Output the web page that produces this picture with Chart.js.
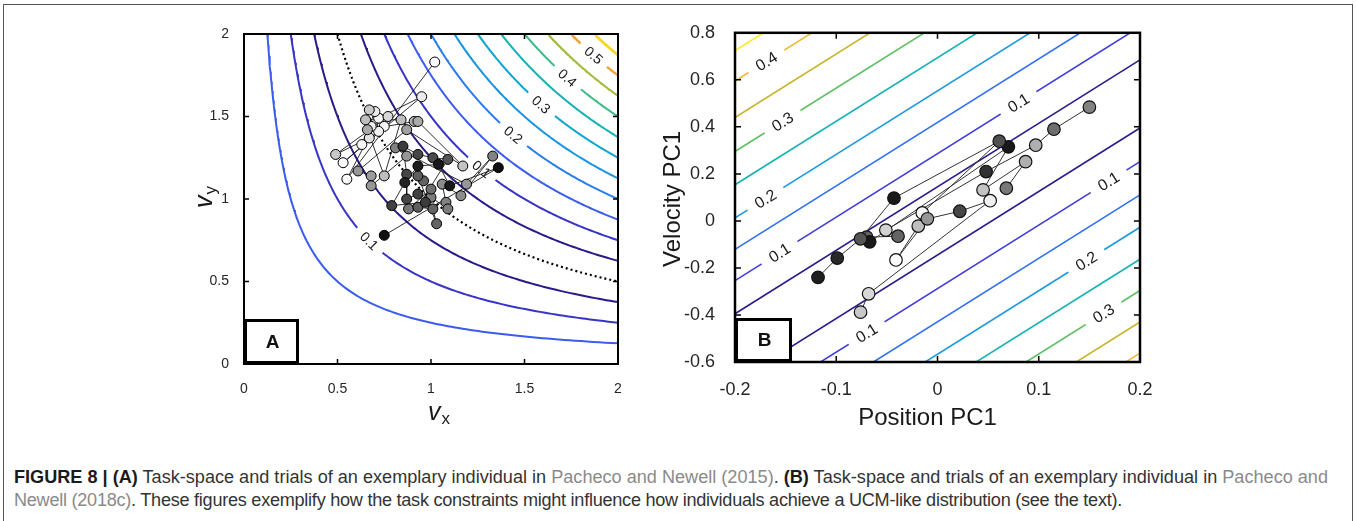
<!DOCTYPE html>
<html>
<head>
<meta charset="utf-8">
<script src="https://cdn.jsdelivr.net/npm/chart.js@4.4.0/dist/chart.umd.min.js"></script>
<style>
  html, body { margin: 0; padding: 0; background: #fff; }
  body { width: 1357px; height: 521px; position: relative; overflow: hidden; font-family: "Liberation Sans", Arial, sans-serif; }
  .frame { position: absolute; left: 3px; top: 4px; width: 1350px; height: 540px; border: 1.5px solid #555; box-sizing: border-box; }
  #chartA { position: absolute; left: 170px; top: 10px; }
  #chartB { position: absolute; left: 640px; top: 10px; }
  .cap { position: absolute; left: 14px; white-space: nowrap; color: #333; }
  .cap b { color: #1a1a1a; }
  .cap .ref { color: #8a8a8a; }
</style>
</head>
<body>
<div class="frame"></div>
<canvas id="chartA" width="470" height="430"></canvas>
<canvas id="chartB" width="530" height="430"></canvas>
<div class="cap" id="cap1"><b>FIGURE 8 | (A)</b> Task-space and trials of an exemplary individual in <span class="ref">Pacheco and Newell (2015)</span>. <b>(B)</b> Task-space and trials of an exemplary individual in <span class="ref">Pacheco and</span></div>
<div class="cap" id="cap2"><span class="ref">Newell (2018c)</span>. These figures exemplify how the task constraints might influence how individuals achieve a UCM-like distribution (see the text).</div>
<script>
Chart.defaults.font.family = "'Liberation Sans', Arial, Helvetica, sans-serif";
Chart.defaults.color = '#262626';

// ---------- panel A: task space v_x / v_y ----------
const xTicksA = [0, 0.5, 1, 1.5, 2];
const yTicksA = [0, 0.5, 1, 1.5, 2];
const tickLabelsA = ['0', '0.5', '1', '1.5', '2'];
const contourProductA = [0.25, 0.5, 0.75, 1.25, 1.5, 1.75, 2, 2.25, 2.5, 2.75, 3, 3.25, 3.5, 3.75];
const contourLevelA = [0.15, 0.1, 0.05, 0.05, 0.1, 0.15, 0.2, 0.25, 0.3, 0.35, 0.4, 0.45, 0.5, 0.55];
const ucmProductA = 1;
const labelTextA = ['0.1', '0.1', '0.2', '0.3', '0.4', '0.5'];
const labelProductA = [0.5, 1.5, 2, 2.5, 3, 3.5];
const labelVxA = [0.67, 1.27, 1.44, 1.59, 1.73, 1.87];
// trials in order
const vxA = [1.02, 0.55, 0.72, 0.95, 0.53, 0.75, 0.63, 0.70, 0.72, 0.68, 0.67, 0.49, 0.77, 0.67, 0.65, 0.84, 0.75, 0.66, 0.91, 0.93,
             1.17, 0.87, 0.61, 0.68, 0.68, 0.87, 0.81, 1.19, 1.33, 1.16, 1.06, 1.08, 1.09, 1.00, 0.88, 1.00, 0.96, 0.93, 1.03, 1.01,
             0.93, 1.09, 1.01, 0.93, 0.85, 0.87, 0.87, 0.93, 0.97, 0.79, 0.86, 0.93, 1.04, 1.10, 1.36, 0.75];
const vyA = [1.83, 1.12, 1.49, 1.62, 1.22, 1.44, 1.33, 1.53, 1.41, 1.44, 1.37, 1.27, 1.50, 1.54, 1.48, 1.48, 1.14, 1.42, 1.47, 1.47,
             1.20, 1.42, 1.17, 1.14, 1.08, 1.26, 1.31, 1.09, 1.26, 1.02, 1.09, 0.98, 0.94, 1.01, 0.94, 1.06, 1.11, 1.14, 0.85, 0.94,
             0.95, 1.24, 1.25, 1.27, 1.32, 1.15, 1.00, 1.03, 0.98, 0.96, 1.10, 1.20, 1.21, 1.08, 1.19, 0.78];
const grayA = [250, 250, 245, 235, 250, 245, 245, 235, 240, 240, 225, 200, 215, 200, 190, 190, 190, 170, 175, 170,
               195, 160, 150, 155, 150, 150, 130, 150, 130, 140, 140, 130, 125, 125, 120, 110, 100, 95, 100, 100,
               95, 85, 75, 70, 60, 70, 70, 65, 60, 65, 35, 30, 25, 25, 15, 15];

// ---------- panel B: position / velocity PC1 ----------
const xTicksB = [-0.2, -0.1, 0, 0.1, 0.2];
const xTickLabelsB = ['-0.2', '-0.1', '0', '0.1', '0.2'];
const yTicksB = [-0.6, -0.4, -0.2, 0, 0.2, 0.4, 0.6, 0.8];
const yTickLabelsB = ['-0.6', '-0.4', '-0.2', '0', '0.2', '0.4', '0.6', '0.8'];
// straight contour lines: value, y at x=-0.2 and y at x=0.2
const contourLevelB = [0.05, 0.1, 0.15, 0.2, 0.25, 0.3, 0.35, 0.4, 0.45, 0.05, 0.1, 0.15, 0.2, 0.25, 0.3, 0.35, 0.4];
const contourLeftB = [-0.395, -0.254, -0.121, 0.013, 0.154, 0.295, 0.44, 0.595, 0.724,
                      -0.685, -0.828, -0.969, -1.107, -1.243, -1.376, -1.51, -1.642];
const contourRightB = [0.685, 0.826, 0.959, 1.093, 1.234, 1.375, 1.52, 1.675, 1.804,
                       0.395, 0.252, 0.111, -0.027, -0.163, -0.296, -0.43, -0.562];
const labelTextB = ['0.4', '0.3', '0.2', '0.1', '0.1', '0.1', '0.1', '0.2', '0.3'];
const labelLineB = [7, 5, 3, 1, 1, 10, 10, 12, 14];
const labelXB = [-0.169, -0.153, -0.170, -0.156, 0.080, 0.169, -0.070, 0.147, 0.164];
// two runs of trials
const pos1B = [-0.118, -0.099, -0.076, -0.043, 0.061, -0.015, -0.019, -0.041, -0.010, 0.022, 0.052, -0.068, -0.076];
const vel1B = [-0.240, -0.158, -0.076, 0.097, 0.339, 0.034, -0.022, -0.166, 0.009, 0.041, 0.086, -0.310, -0.388];
const gray1B = [30, 40, 85, 25, 80, 245, 190, 250, 150, 70, 240, 215, 200];
const pos2B = [0.150, 0.115, 0.097, 0.048, -0.051, -0.039, -0.070, -0.067, 0.070, 0.045, 0.087, 0.068];
const vel2B = [0.484, 0.390, 0.322, 0.210, -0.039, -0.065, -0.069, -0.089, 0.315, 0.132, 0.252, 0.139];
const gray2B = [130, 110, 175, 50, 210, 100, 100, 25, 25, 195, 175, 120];

// colours of the contour levels
const paletteA = {
  '0.05': '#2a1b8a', '0.1': '#3834c8', '0.15': '#3b5cee', '0.2': '#2b7deb', '0.25': '#1895e0', '0.3': '#0ca7d0',
  '0.35': '#12b3b2', '0.4': '#3dba86', '0.45': '#a2bd3c', '0.5': '#f0a43a', '0.55': '#f6d824'
};
const paletteB = {
  '0.05': '#2a1b8a', '0.1': '#3d3cd6', '0.15': '#2e6ff0', '0.2': '#1a98dc', '0.25': '#13b2b4', '0.3': '#5bc162',
  '0.35': '#c9b52c', '0.4': '#f3b93a', '0.45': '#f6ec1e'
};

const grey = g => `rgb(${g},${g},${g})`;

function hyperbola(p) {
  const pts = [];
  const x0 = p / 2, n = 160;
  for (let i = 0; i <= n; i++) {
    const vx = x0 * Math.pow(2 / x0, i / n);
    pts.push({ x: vx, y: p / vx });
  }
  return pts;
}

const lineYB = (idx, xv) => contourLeftB[idx] + (xv + 0.2) / 0.4 * (contourRightB[idx] - contourLeftB[idx]);

function makeDecor(cfg) {
  return {
    id: 'decor' + cfg.letter,
    beforeDraw(chart) { chart.$labelsDone = false; },
    beforeDatasetDraw(chart, args) {
      if (chart.$labelsDone || !chart.data.datasets[args.index].trajectory) return;
      chart.$labelsDone = true;
      const { ctx, scales: { x, y } } = chart;
      ctx.save();
      ctx.font = cfg.labelFont;
      cfg.labels.forEach(l => {
        const px = x.getPixelForValue(l.at.x), py = y.getPixelForValue(l.at.y);
        const qx = x.getPixelForValue(l.next.x), qy = y.getPixelForValue(l.next.y);
        const ang = Math.atan2(qy - py, qx - px);
        const w = ctx.measureText(l.text).width;
        ctx.save();
        ctx.translate(px, py);
        ctx.rotate(ang);
        ctx.fillStyle = '#fff';
        ctx.fillRect(-w / 2 - cfg.gap, -cfg.gapH / 2, w + 2 * cfg.gap, cfg.gapH);
        ctx.fillStyle = '#1a1a1a';
        ctx.textAlign = 'center';
        ctx.textBaseline = 'middle';
        ctx.fillText(l.text, 0, 1);
        ctx.restore();
      });
      ctx.restore();
    },
    afterDatasetsDraw(chart) {
      const { ctx, chartArea: a, scales: { x, y } } = chart;
      ctx.save();
      // axes box
      ctx.strokeStyle = '#000';
      ctx.lineWidth = cfg.frameWidth;
      ctx.strokeRect(a.left, a.top, a.right - a.left, a.bottom - a.top);
      // inward ticks on all four sides
      ctx.lineWidth = 1.5;
      ctx.beginPath();
      x.ticks.forEach(t => {
        const px = x.getPixelForValue(t.value);
        ctx.moveTo(px, a.bottom); ctx.lineTo(px, a.bottom - cfg.tickLen);
        ctx.moveTo(px, a.top); ctx.lineTo(px, a.top + cfg.tickLen);
      });
      y.ticks.forEach(t => {
        const py = y.getPixelForValue(t.value);
        ctx.moveTo(a.left, py); ctx.lineTo(a.left + cfg.tickLen, py);
        ctx.moveTo(a.right, py); ctx.lineTo(a.right - cfg.tickLen, py);
      });
      ctx.stroke();
      // panel letter box
      const bx = a.left, by = a.bottom - cfg.boxH;
      ctx.fillStyle = '#fff';
      ctx.fillRect(bx, by, cfg.boxW, cfg.boxH);
      ctx.lineWidth = 3;
      ctx.strokeRect(bx + 1.5, by + 1.5, cfg.boxW - 3, cfg.boxH - 3);
      ctx.fillStyle = '#111';
      ctx.font = "bold 19px 'Liberation Sans', Arial";
      ctx.textAlign = 'center';
      ctx.textBaseline = 'middle';
      ctx.fillText(cfg.letter, bx + cfg.boxW / 2 + 1, by + cfg.boxH / 2 + 1);
      // axis titles
      cfg.titles(ctx, a);
      ctx.restore();
    }
  };
}

// ---------- chart A ----------
const datasetsA = [];
datasetsA.push({
  data: vxA.map((v, i) => ({ x: v, y: vyA[i] })),
  trajectory: true,
  showLine: true,
  borderColor: '#1a1a1a',
  borderWidth: 0.9,
  pointRadius: 5,
  pointBackgroundColor: grayA.map(grey),
  pointBorderColor: '#000',
  pointBorderWidth: 1,
  order: 0
});
datasetsA.push({
  data: hyperbola(ucmProductA),
  showLine: true,
  borderColor: '#000',
  borderWidth: 2.2,
  borderDash: [2, 3],
  pointRadius: 0,
  order: 1
});
contourProductA.forEach((p, i) => {
  datasetsA.push({
    data: hyperbola(p),
    showLine: true,
    borderColor: paletteA[String(contourLevelA[i])],
    borderWidth: 2,
    pointRadius: 0,
    order: 1
  });
});

const labelsA = labelTextA.map((t, i) => ({
  text: t,
  at: { x: labelVxA[i], y: labelProductA[i] / labelVxA[i] },
  next: { x: labelVxA[i] + 0.01, y: labelProductA[i] / (labelVxA[i] + 0.01) }
}));

new Chart(document.getElementById('chartA'), {
  type: 'scatter',
  data: { datasets: datasetsA },
  options: {
    responsive: false,
    animation: false,
    events: [],
    layout: { padding: { left: 0, top: 24, right: 22, bottom: 0 } },
    plugins: { legend: { display: false }, tooltip: { enabled: false } },
    scales: {
      x: {
        type: 'linear', min: 0, max: 2,
        grid: { display: false }, border: { display: false },
        afterBuildTicks: s => { s.ticks = xTicksA.map(v => ({ value: v })); },
        afterFit: s => { s.height = 76; },
        ticks: { autoSkip: false, maxRotation: 0, padding: 9, font: { size: 14 }, callback: (v, i) => tickLabelsA[i] }
      },
      y: {
        type: 'linear', min: 0, max: 2,
        grid: { display: false }, border: { display: false },
        afterBuildTicks: s => { s.ticks = yTicksA.map(v => ({ value: v })); },
        afterFit: s => { s.width = 74; },
        ticks: { autoSkip: false, padding: 7, font: { size: 14 }, callback: (v, i) => tickLabelsA[i] }
      }
    }
  },
  plugins: [makeDecor({
    letter: 'A', boxW: 55, boxH: 45, frameWidth: 2, tickLen: 5,
    labels: labelsA, labelFont: "14px 'Liberation Sans', Arial", gap: 8, gapH: 12,
    titles(ctx, a) {
      const cx = (a.left + a.right) / 2, cy = (a.top + a.bottom) / 2;
      ctx.fillStyle = '#1a1a1a';
      ctx.textAlign = 'left';
      ctx.textBaseline = 'alphabetic';
      ctx.font = "italic 25px 'Liberation Sans', Arial";
      const vw = ctx.measureText('v').width;
      ctx.fillText('v', cx - 3, a.bottom + 56);
      ctx.font = "17px 'Liberation Sans', Arial";
      ctx.fillText('x', cx - 3 + vw + 1, a.bottom + 60);
      ctx.save();
      ctx.translate(a.left - 32, cy + 9);
      ctx.rotate(-Math.PI / 2);
      ctx.font = "italic 25px 'Liberation Sans', Arial";
      ctx.fillText('v', 0, 0);
      ctx.font = "17px 'Liberation Sans', Arial";
      ctx.fillText('y', vw + 1, 4);
      ctx.restore();
    }
  })]
});

// ---------- chart B ----------
const datasetsB = [];
[[pos1B, vel1B, gray1B], [pos2B, vel2B, gray2B]].forEach(([px, vy, g]) => {
  datasetsB.push({
    data: px.map((v, i) => ({ x: v, y: vy[i] })),
    trajectory: true,
    showLine: true,
    borderColor: '#333',
    borderWidth: 1,
    pointRadius: 6.3,
    pointBackgroundColor: g.map(grey),
    pointBorderColor: '#111',
    pointBorderWidth: 1.2,
    order: 0
  });
});
contourLevelB.forEach((lv, i) => {
  datasetsB.push({
    data: [{ x: -0.2, y: contourLeftB[i] }, { x: 0.2, y: contourRightB[i] }],
    showLine: true,
    borderColor: paletteB[String(lv)],
    borderWidth: 1.6,
    pointRadius: 0,
    order: 1
  });
});

const labelsB = labelTextB.map((t, i) => ({
  text: t,
  at: { x: labelXB[i], y: lineYB(labelLineB[i], labelXB[i]) },
  next: { x: labelXB[i] + 0.01, y: lineYB(labelLineB[i], labelXB[i] + 0.01) }
}));

new Chart(document.getElementById('chartB'), {
  type: 'scatter',
  data: { datasets: datasetsB },
  options: {
    responsive: false,
    animation: false,
    events: [],
    layout: { padding: { left: 0, top: 20, right: 30, bottom: 0 } },
    plugins: { legend: { display: false }, tooltip: { enabled: false } },
    scales: {
      x: {
        type: 'linear', min: -0.2, max: 0.2,
        grid: { display: false }, border: { display: false },
        afterBuildTicks: s => { s.ticks = xTicksB.map(v => ({ value: v })); },
        afterFit: s => { s.height = 78; },
        ticks: { autoSkip: false, maxRotation: 0, padding: 9, font: { size: 18 }, callback: (v, i) => xTickLabelsB[i] }
      },
      y: {
        type: 'linear', min: -0.6, max: 0.8,
        grid: { display: false }, border: { display: false },
        afterBuildTicks: s => { s.ticks = yTicksB.map(v => ({ value: v })); },
        afterFit: s => { s.width = 95; },
        ticks: { autoSkip: false, padding: 12, font: { size: 18 }, callback: (v, i) => yTickLabelsB[i] }
      }
    }
  },
  plugins: [makeDecor({
    letter: 'B', boxW: 57, boxH: 44, frameWidth: 2.5, tickLen: 6,
    labels: labelsB, labelFont: "16px 'Liberation Sans', Arial", gap: 10, gapH: 13,
    titles(ctx, a) {
      const cx = (a.left + a.right) / 2, cy = (a.top + a.bottom) / 2;
      ctx.fillStyle = '#1a1a1a';
      ctx.font = "24px 'Liberation Sans', Arial";
      ctx.textAlign = 'center';
      ctx.textBaseline = 'alphabetic';
      ctx.fillText('Position PC1', cx - 10, a.bottom + 63);
      ctx.save();
      ctx.translate(a.left - 55, cy + 1.5);
      ctx.rotate(-Math.PI / 2);
      ctx.fillText('Velocity PC1', 0, 0);
      ctx.restore();
    }
  })]
});

// ---------- caption: fit each line to its width in the figure ----------
const cap1 = document.getElementById('cap1');
const cap2 = document.getElementById('cap2');
let fs = 15;
cap1.style.fontSize = fs + 'px';
fs = fs * 1315 / cap1.getBoundingClientRect().width;
[[cap1, 483.3], [cap2, 506.7]].forEach(([el, base]) => {
  const lh = Math.round(fs * 1.2);
  el.style.fontSize = fs + 'px';
  el.style.lineHeight = lh + 'px';
  el.style.top = (base - 0.905 * fs - (lh - 1.117 * fs) / 2) + 'px';
});
// second line is narrower in the figure
const w2 = cap2.getBoundingClientRect().width;
const n2 = cap2.textContent.length;
cap2.style.letterSpacing = ((1108 - w2) / n2) + 'px';
</script>
</body>
</html>
